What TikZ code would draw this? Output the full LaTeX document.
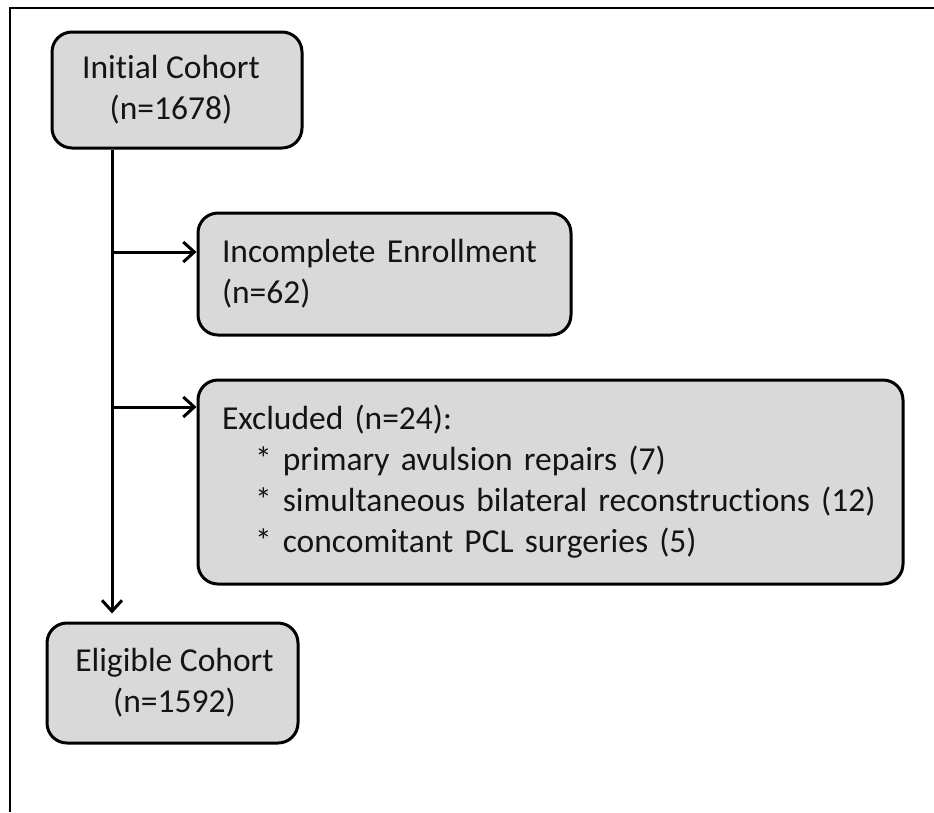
\documentclass[tikz,border=0pt]{standalone}
\usepackage{fontspec}
\setmainfont[Ligatures=NoCommon]{Carlito}
\usetikzlibrary{arrows.meta}
\begin{document}
\begin{tikzpicture}[x=1pt,y=-1pt,
  box/.style={draw=black, line width=3pt, fill=boxgray, rounded corners=20pt,
    inner sep=0pt, text=textdark, font=\fontsize{33.5}{41}\selectfont},
  conn/.style={line width=3pt, -{Straight Barb[length=11pt,width=20pt,line width=3pt]}},
  frameline/.style={line width=2pt}]
\definecolor{boxgray}{HTML}{D9D9D9}
\definecolor{textdark}{HTML}{141414}
\useasboundingbox (0,0) rectangle (934,812);
\draw[frameline] (934,8) -- (10,8) -- (10,812);
\node[box, minimum width=250pt, minimum height=116pt, align=center] (init) at (177,90)
  {\hspace*{-12pt}Initial Cohort\\\hspace*{-12pt}(n=1678)};
\node[box, minimum width=373pt, minimum height=122pt, text width=325pt, align=left] (inc) at (384.5,274)
  {Incomplete Enrollment\\(n=62)};
\node[box, minimum width=705pt, minimum height=204pt, text width=681pt, align=left] (exc) at (550.5,482)
  {\hspace*{12pt}Excluded (n=24):\\
   \hspace*{45pt}* primary avulsion repairs (7)\\
   \hspace*{45pt}* simultaneous bilateral reconstructions (12)\\
   \hspace*{45pt}* concomitant PCL surgeries (5)};
\node[box, minimum width=251pt, minimum height=120pt, align=center] (elig) at (172.5,683)
  {\hspace*{4pt}Eligible Cohort\\\hspace*{4pt}(n=1592)};
\coordinate (spine) at (112,0);
\coordinate (j1) at (112,252);
\coordinate (j2) at (112,407);
\draw[conn, shorten >=8pt] (init.south -| spine) -- (elig.north -| spine);
\draw[conn] (j1) -- (j1 -| inc.west);
\draw[conn] (j2) -- (j2 -| exc.west);
\end{tikzpicture}
\end{document}
